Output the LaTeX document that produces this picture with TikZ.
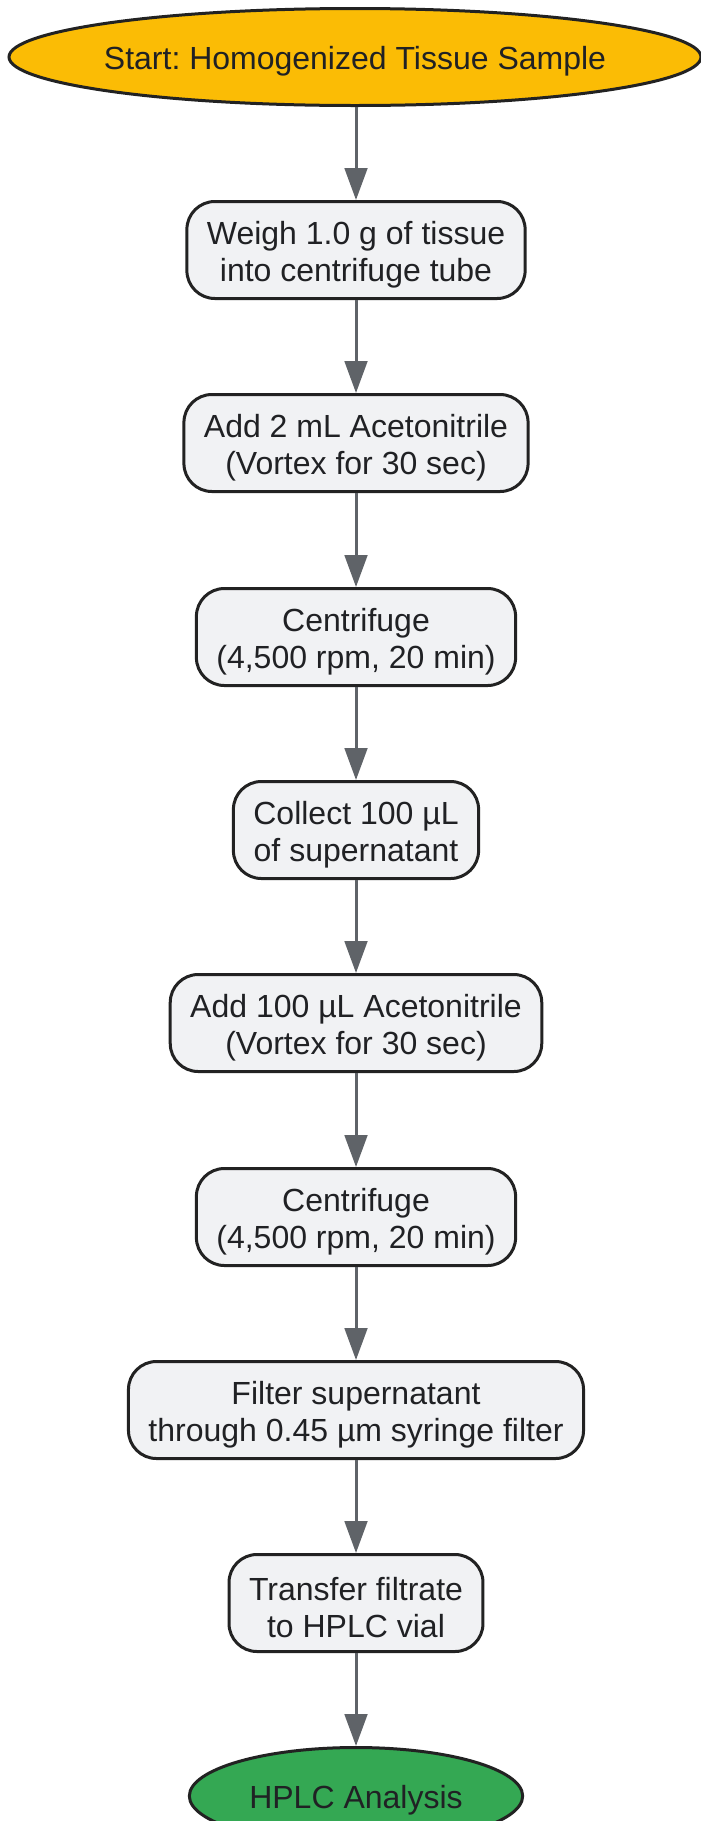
\documentclass[tikz,border=0pt]{standalone}
\usepackage{fontspec}
\setmainfont{Liberation Sans}
\frenchspacing
\usetikzlibrary{shapes.geometric,arrows.meta}
\definecolor{boxfill}{HTML}{F1F2F4}
\definecolor{boxline}{HTML}{222222}
\definecolor{arrowc}{HTML}{5F6368}
\definecolor{txt}{HTML}{202124}
\definecolor{startc}{HTML}{FBBC05}
\definecolor{endc}{HTML}{34A853}
\newcommand{\toplift}{\rule{0pt}{24.5pt}}
\tikzset{
  stepbox/.style={draw=boxline, line width=2.25pt, fill=boxfill, rounded corners=21pt,
    minimum height=72.75pt, inner xsep=15pt, inner ysep=0pt, align=center,
    font=\fontsize{24}{28}\selectfont, text=txt},
  oval/.style={draw=boxline, line width=2.25pt, ellipse, inner sep=0pt, minimum height=72.75pt},
  lbl/.style={font=\fontsize{24}{28}\selectfont, text=txt, align=center, inner sep=0pt, yshift=-3pt},
  flow/.style={draw=arrowc, line width=2.25pt, -{Triangle[width=17pt,length=24pt]}}
}
\begin{document}
\begin{tikzpicture}[x=0.75pt,y=-0.75pt]
\useasboundingbox (0,0) rectangle (700,1821);
\node[oval, fill=startc, minimum width=519pt] (start) at (355,57) {};
\node[lbl] (startt) at (start.center) {Start: Homogenized Tissue Sample};
\node[stepbox] (s1) at (356,250) {\toplift Weigh 1.0 g of tissue\\into centrifuge tube};
\node[stepbox] (s2) at (356,443) {\toplift Add 2 mL Acetonitrile\\(Vortex for 30 sec)};
\node[stepbox] (s3) at (356,637) {\toplift Centrifuge\\(4,500 rpm, 20 min)};
\node[stepbox] (s4) at (356,830) {\toplift Collect 100 µL\\of supernatant};
\node[stepbox] (s5) at (356,1023) {\toplift Add 100 µL Acetonitrile\\(Vortex for 30 sec)};
\node[stepbox] (s6) at (356,1217) {\toplift Centrifuge\\(4,500 rpm, 20 min)};
\node[stepbox] (s7) at (356,1410) {\toplift Filter supernatant\\through 0.45 µm syringe filter};
\node[stepbox] (s8) at (356,1603) {\toplift Transfer filtrate\\to HPLC vial};
\node[oval, fill=endc, minimum width=250pt] (end) at (356,1796) {};
\node[lbl] (endt) at (end.center) {HPLC Analysis};
\draw[flow] (start.south -| s1.north) -- (s1.north);
\draw[flow] (s1) -- (s2);
\draw[flow] (s2) -- (s3);
\draw[flow] (s3) -- (s4);
\draw[flow] (s4) -- (s5);
\draw[flow] (s5) -- (s6);
\draw[flow] (s6) -- (s7);
\draw[flow] (s7) -- (s8);
\draw[flow] (s8) -- (end);
\end{tikzpicture}
\end{document}
